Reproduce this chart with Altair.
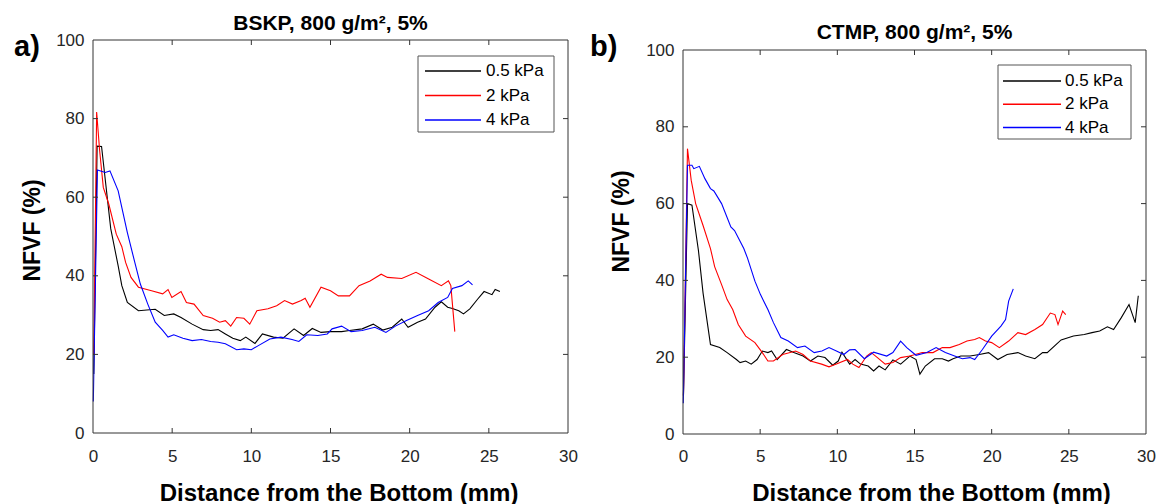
import altair as alt
import pandas as pd

# ---------------- data ----------------
series_names = ["0.5 kPa", "2 kPa", "4 kPa"]
series_colors = ["#000000", "#ff0000", "#0000ff"]

# Panel a) BSKP
a_x_05 = [0.05, 0.26, 0.54, 1.12, 1.59, 1.82, 2.17, 2.87, 3.93, 4.5, 5.1, 5.56, 6.26, 6.96, 7.43, 7.9, 8.36,
          8.83, 9.3, 9.65, 10.23, 10.7, 11.4, 12.0, 12.7, 13.3, 13.85, 14.4, 15.0, 15.7, 16.2, 17.0, 17.7,
          18.3, 18.9, 19.5, 19.9, 20.5, 21.0, 21.6, 22.0, 22.4, 22.7, 23.1, 23.4, 23.8, 24.3, 24.7, 25.2,
          25.4, 25.7]
a_y_05 = [15, 73, 72.9, 52, 42.5, 37.5, 33.2, 31.1, 31.5, 29.9, 30.3, 29.4, 27.7, 26.3, 26.1, 26.3, 25.2,
          24.1, 23.5, 24.4, 22.8, 25.2, 24.4, 24.1, 26.5, 24.8, 26.6, 25.6, 25.8, 25.8, 26.1, 26.5, 27.7,
          26.2, 26.9, 29, 26.9, 28.2, 29, 32, 33.4, 32, 31.7, 31.1, 30.3, 31.6, 34.1, 36, 35.2, 36.5, 36]
a_x_2 = [0.05, 0.23, 0.42, 0.65, 1.0, 1.47, 1.82, 2.06, 2.4, 2.87, 3.7, 4.4, 4.74, 4.98, 5.56, 5.9, 6.38,
         6.96, 7.55, 8.0, 8.36, 8.7, 9.07, 9.53, 9.9, 10.35, 11.05, 11.6, 12.1, 12.6, 13.15, 13.4, 13.7,
         14.4, 15.0, 15.5, 16.2, 16.8, 17.5, 18.2, 18.6, 19.5, 20.4, 21.2, 22.0, 22.45, 22.6, 22.85]
a_y_2 = [20, 81.7, 71.8, 62.5, 58.2, 50.6, 47.4, 43.4, 39.6, 37.1, 36.2, 35.4, 36.5, 34.5, 36, 33.2, 32.8,
         29.9, 29.2, 28.2, 28.6, 27.2, 29.4, 29.2, 27.7, 31.1, 31.6, 32.4, 33.7, 32.8, 33.7, 34.3, 32,
         37.1, 36.2, 34.9, 34.9, 37.5, 38.7, 40.4, 39.6, 39.3, 40.9, 39.2, 37.5, 38.7, 37.5, 25.8]
a_x_4 = [0.02, 0.28, 0.77, 1.07, 1.59, 2.17, 2.64, 2.99, 3.46, 3.93, 4.4, 4.74, 5.1, 5.68, 6.26, 6.85, 7.43,
         7.9, 8.36, 9.07, 9.53, 10.0, 10.47, 11.17, 11.87, 12.57, 13.0, 13.5, 14.2, 14.8, 15.1, 15.7, 16.3,
         17.0, 17.8, 18.5, 19.1, 19.8, 20.5, 21.2, 21.8, 22.4, 22.7, 23.3, 23.7, 23.97]
a_y_4 = [8, 66.9, 66.3, 66.7, 61.6, 51, 43.4, 37.9, 32.8, 28.2, 26.1, 24.4, 25, 24.1, 23.5, 23.8, 23.3,
         23.1, 22.7, 21.2, 21.4, 21.2, 22.3, 23.9, 24.4, 23.8, 23.3, 25, 24.8, 25.2, 26.5, 27.2, 25.8,
         26.1, 26.9, 25.6, 27.2, 28.6, 29.9, 31.1, 33.2, 34.5, 36.8, 37.5, 38.7, 37.7]

# Panel b) CTMP
b_x_05 = [0.03, 0.29, 0.58, 1.0, 1.3, 1.78, 2.38, 2.86, 3.46, 3.7, 4.06, 4.42, 4.8, 5.14, 5.5, 5.74, 6.1,
          6.7, 7.18, 7.78, 8.26, 8.74, 9.2, 9.7, 10.06, 10.3, 10.8, 11.15, 11.5, 12.0, 12.35, 12.7, 13.1,
          13.6, 14.1, 14.7, 15.1, 15.35, 15.7, 16.3, 16.8, 17.2, 17.5, 18.0, 18.6, 19.2, 19.8, 20.4, 21.0,
          21.7, 22.2, 22.8, 23.3, 23.6, 24.5, 25.3, 26.0, 26.5, 27.0, 27.5, 27.9, 28.4, 28.9, 29.3, 29.5]
b_y_05 = [10, 60, 59.6, 47.8, 36.7, 23.3, 22.5, 21.2, 19.4, 18.6, 19, 18.2, 19.4, 21.6, 21.2, 21.6, 19.4,
          22, 21.2, 20.3, 19, 20.3, 19.9, 17.9, 19, 21.3, 18.2, 19.4, 18.2, 17.7, 16.4, 17.7, 16.7,
          19.3, 18.2, 20.3, 19.4, 15.6, 17.7, 19.6, 19.6, 19, 19.6, 20.3, 20.3, 20.7, 21.2, 19.4, 20.7,
          21.2, 20.3, 19.6, 21.2, 21.2, 24.5, 25.5, 25.9, 26.4, 26.8, 27.9, 27.2, 30.3, 33.7, 29, 36]
b_x_2 = [0.03, 0.29, 0.53, 0.82, 1.3, 1.78, 2.05, 2.5, 2.86, 3.22, 3.58, 4.06, 4.66, 5.14, 5.5, 5.86, 6.46,
         7.3, 7.78, 8.26, 8.98, 9.46, 9.94, 10.66, 11.0, 11.4, 11.9, 12.2, 12.6, 13.1, 13.6, 14.1, 14.7,
         15.5, 16.2, 16.8, 17.3, 17.9, 18.4, 18.9, 19.2, 19.6, 20.0, 20.5, 21.1, 21.7, 22.2, 22.8, 23.3,
         23.8, 24.1, 24.3, 24.6, 24.8]
b_y_2 = [10, 74.3, 66.1, 60, 54.3, 48.3, 43.6, 38.9, 35, 32.4, 28.5, 25.5, 23.8, 21.2, 19, 19, 20.7,
         21.6, 20.7, 19, 18.2, 17.5, 18.2, 19.4, 18.2, 17.3, 20.3, 21.2, 19.9, 18.2, 18.6, 19.9, 20.3,
         21.2, 21.2, 22.5, 22.5, 23.3, 24.2, 24.6, 25.1, 24.2, 23.8, 22.5, 24.2, 26.4, 25.9, 27.2, 28.5,
         31.5, 31.1, 28.5, 32, 31.1]
b_x_4 = [0.02, 0.29, 0.58, 0.7, 1.06, 1.42, 1.78, 2.0, 2.5, 3.1, 3.34, 3.94, 4.18, 4.66, 5.02, 5.5, 5.86,
         6.34, 6.82, 7.42, 7.9, 8.5, 9.0, 9.46, 9.94, 10.42, 10.8, 11.15, 11.75, 12.35, 13.2, 13.6, 14.1,
         14.5, 15.1, 15.8, 16.4, 17.0, 17.6, 18.1, 18.6, 18.9, 19.4, 20.0, 20.6, 20.9, 21.1, 21.4]
b_y_4 = [8, 70, 70, 69.1, 69.7, 66.5, 63.9, 63.3, 60, 53.9, 53, 48.3, 45.8, 39.8, 36.3, 32.4, 29,
         25.1, 24.2, 22.5, 22.9, 21.2, 21.6, 22.5, 21.6, 20.7, 21.9, 22, 19.6, 21.3, 20.3, 21.2, 24.2,
         22.5, 20.5, 21.2, 22.5, 21.2, 20.3, 19.6, 19.9, 19.4, 22, 25.5, 28.1, 29.8, 34.6, 37.8]

x_domain = [0, 30]
y_domain = [0, 100]
x_ticks = [0, 5, 10, 15, 20, 25, 30]
y_ticks = [0, 20, 40, 60, 80, 100]
x_inner_ticks = [5, 10, 15, 20, 25]
y_inner_ticks = [20, 40, 60, 80]

title_a = "BSKP, 800 g/m², 5%"
title_b = "CTMP, 800 g/m², 5%"
x_title = "Distance from the Bottom (mm)"
y_title = "NFVF (%)"

FONT = "Liberation Sans"
FRAME = "#333333"
TICK_PX = 5


def series_frame(xs_list, ys_list):
    rows = []
    for name, color, xs, ys in zip(series_names, series_colors, xs_list, ys_list):
        assert len(xs) == len(ys), name
        for i, (x, y) in enumerate(zip(xs, ys)):
            rows.append({"x": x, "y": y, "s": name, "c": color, "i": i})
    return pd.DataFrame(rows)


def frame_and_ticks(plot_w, plot_h):
    x0, x1 = x_domain
    y0, y1 = y_domain
    lx = TICK_PX / plot_w * (x1 - x0)
    ly = TICK_PX / plot_h * (y1 - y0)
    rows = [
        {"x": x0, "x2": x1, "y": y0, "y2": y0},
        {"x": x0, "x2": x1, "y": y1, "y2": y1},
        {"x": x0, "x2": x0, "y": y0, "y2": y1},
        {"x": x1, "x2": x1, "y": y0, "y2": y1},
    ]
    for t in x_inner_ticks:
        rows.append({"x": t, "x2": t, "y": y0, "y2": y0 + ly})
        rows.append({"x": t, "x2": t, "y": y1, "y2": y1 - ly})
    for t in y_inner_ticks:
        rows.append({"x": x0, "x2": x0 + lx, "y": t, "y2": t})
        rows.append({"x": x1, "x2": x1 - lx, "y": t, "y2": t})
    return pd.DataFrame(rows)


def text_layer(txt, size, align, baseline, x, y, color="#000000", weight="bold"):
    return alt.Chart(pd.DataFrame({"t": [txt]})).mark_text(
        font=FONT, fontSize=size, fontWeight=weight, align=align, color=color,
        baseline=baseline).encode(text="t:N", x=alt.value(x), y=alt.value(y))


def panel(df, w, cell_h, top_gap, title, label, tx, ty, lab_x, lab_y, box, rows_y, line_x, label_x,
          ytx, yty, xtx, xty, xlp, left_anchor):
    plot_h = cell_h - top_gap
    xs = alt.Scale(domain=x_domain, nice=False, zero=False)
    ys = alt.Scale(domain=y_domain, range=[cell_h, top_gap], nice=False, zero=False)
    xaxis = alt.Axis(values=x_ticks, tickSize=0, domain=False, grid=False, labelFlush=False,
                     labelOverlap=False, labelFont=FONT, labelFontSize=17, labelColor="#262626",
                     labelBaseline="alphabetic", labelPadding=xlp,
                     title=x_title, titleFont=FONT, titleFontSize=24, titleFontWeight="bold",
                     titleColor="#000000", titleX=xtx, titleY=xty, titleAlign="center",
                     titleBaseline="alphabetic")
    yaxis = alt.Axis(values=y_ticks, tickSize=0, domain=False, grid=False, labelFlush=False,
                     labelOverlap=False, labelFont=FONT, labelFontSize=17, labelColor="#262626",
                     labelPadding=9,
                     title=y_title, titleFont=FONT, titleFontSize=23, titleFontWeight="bold",
                     titleColor="#000000", titleX=ytx, titleY=yty, titleAngle=270,
                     titleAlign="center", titleBaseline="alphabetic")

    lines = alt.Chart(df).mark_line(strokeWidth=1.1).encode(
        x=alt.X("x:Q", scale=xs, axis=xaxis),
        y=alt.Y("y:Q", scale=ys, axis=yaxis),
        detail="s:N",
        color=alt.Color("c:N", scale=None),
        order="i:Q",
    )
    frame = alt.Chart(frame_and_ticks(w, plot_h)).mark_rule(strokeWidth=1, color=FRAME).encode(
        x=alt.X("x:Q", scale=xs, axis=xaxis), x2="x2:Q",
        y=alt.Y("y:Q", scale=ys, axis=None), y2="y2:Q")

    # legend (box + line samples + labels), rows placed by a point scale of the series
    leg_df = pd.DataFrame({"s": series_names, "c": series_colors})
    leg_y = alt.Y("s:N", scale=alt.Scale(type="point", domain=series_names, range=rows_y, padding=0),
                  axis=None)
    leg_box = alt.Chart(pd.DataFrame({"t": [0]})).mark_rect(
        fill="#ffffff", stroke="#555555", strokeWidth=1).encode(
        x=alt.value(box[0]), x2=alt.value(box[1]), y=alt.value(box[2]), y2=alt.value(box[3]))
    leg_lines = alt.Chart(leg_df).mark_rule(strokeWidth=1.3).encode(
        x=alt.value(line_x[0]), x2=alt.value(line_x[1]), y=leg_y,
        color=alt.Color("c:N", scale=None))
    leg_text = alt.Chart(leg_df).mark_text(
        font=FONT, fontSize=17, align="left", baseline="middle", color="#000000").encode(
        x=alt.value(label_x), y=leg_y, text="s:N")

    ttl = text_layer(title, 21, "center", "alphabetic", tx, ty)
    lab = text_layer(label, 29, "left", "alphabetic", lab_x, lab_y)
    anchor_t = text_layer(".", 4, "left", "top", 0, -35, color="#ffffff", weight="normal")
    anchor_l = text_layer(".", 4, "left", "top", left_anchor, cell_h / 2, color="#ffffff", weight="normal")
    anchor_r = text_layer(".", 4, "right", "top", w + 14, cell_h / 2, color="#ffffff", weight="normal")

    return alt.layer(lines, frame, leg_box, leg_text, ttl, lab,
                     anchor_t, anchor_l, anchor_r, leg_lines).resolve_scale(y="independent").properties(
        width=w, height=cell_h)


df_a = series_frame([a_x_05, a_x_2, a_x_4], [a_y_05, a_y_2, a_y_4])
df_b = series_frame([b_x_05, b_x_2, b_x_4], [b_y_05, b_y_2, b_y_4])

# panel a: plot 475 x 393 starting at the cell top
pa = panel(df_a, 475, 393, 0, title_a, "a)", 237.5, -10, -79, 16,
           box=[325, 461, 16, 92], rows_y=[31, 80], line_x=[332, 388], label_x=393,
           ytx=-54, yty=190, xtx=245.6, xty=67, xlp=28, left_anchor=-91)
# panel b: plot 463 x 384, starting 10 px below the cell top
pb = panel(df_b, 463, 394, 10, title_b, "b)", 231.5, -1, -93, 16,
           box=[315, 448, 25, 99], rows_y=[41, 87.5], line_x=[320, 378], label_x=382,
           ytx=-55, yty=181, xtx=248, xty=66, xlp=27, left_anchor=-96)

chart = alt.hconcat(pa, pb, spacing=5).properties(
    padding={"left": 2, "top": 5, "right": 2, "bottom": 0},
    background="#ffffff",
).configure_view(stroke=None)

chart.save("out.html", embed_options={"renderer": "svg", "actions": False})
